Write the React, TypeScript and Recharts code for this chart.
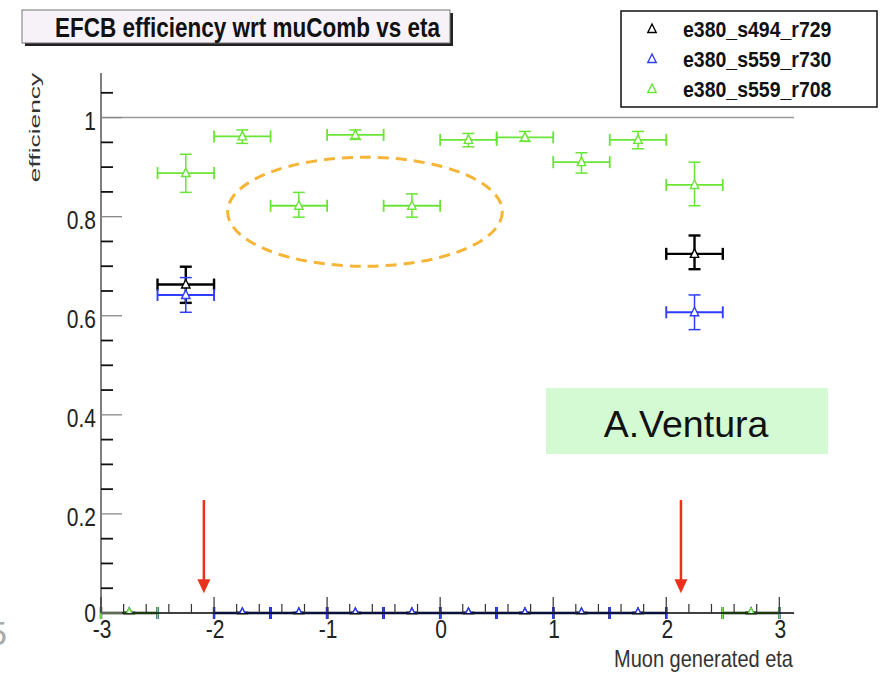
import React from 'react';
import { ComposedChart, Scatter, ErrorBar, XAxis, YAxis, ReferenceLine, ReferenceArea } from 'recharts';

// bin centres (eta), bins are 0.5 wide
const etaBins = [-2.75, -2.25, -1.75, -1.25, -0.75, -0.25, 0.25, 0.75, 1.25, 1.75, 2.25, 2.75];
const binHalfWidth = 0.25;

// e380_s494_r729 (black)
const effR729 = [0, 0.663, 0, 0, 0, 0, 0, 0, 0, 0, 0.725, 0];
const lowR729 = [0, 0.626, 0, 0, 0, 0, 0, 0, 0, 0, 0.694, 0];
const highR729 = [0, 0.699, 0, 0, 0, 0, 0, 0, 0, 0, 0.762, 0];

// e380_s559_r730 (blue)
const effR730 = [0, 0.642, 0, 0, 0, 0, 0, 0, 0, 0, 0.607, 0];
const lowR730 = [0, 0.607, 0, 0, 0, 0, 0, 0, 0, 0, 0.572, 0];
const highR730 = [0, 0.677, 0, 0, 0, 0, 0, 0, 0, 0, 0.642, 0];

// e380_s559_r708 (green)
const effR708 = [0, 0.888, 0.962, 0.822, 0.965, 0.822, 0.955, 0.96, 0.91, 0.955, 0.864, 0];
const lowR708 = [0, 0.849, 0.948, 0.799, 0.956, 0.799, 0.941, 0.952, 0.888, 0.937, 0.822, 0];
const highR708 = [0, 0.926, 0.975, 0.849, 0.975, 0.846, 0.968, 0.972, 0.929, 0.972, 0.91, 0];

const xTicks = [
  -3, -2.8, -2.6, -2.4, -2.2, -2, -1.8, -1.6, -1.4, -1.2, -1, -0.8, -0.6, -0.4, -0.2, 0,
  0.2, 0.4, 0.6, 0.8, 1, 1.2, 1.4, 1.6, 1.8, 2, 2.2, 2.4, 2.6, 2.8, 3,
];
const xMajor = [-3, -2, -1, 0, 1, 2, 3];
const yTicks = [
  0, 0.05, 0.1, 0.15, 0.2, 0.25, 0.3, 0.35, 0.4, 0.45, 0.5, 0.55, 0.6, 0.65, 0.7, 0.75,
  0.8, 0.85, 0.9, 0.95, 1, 1.05,
];
const yMajor = [0, 0.2, 0.4, 0.6, 0.8, 1];

// annotations (data coordinates)
const ellipseBox = { x1: -1.88, x2: 0.55, y1: 0.7, y2: 0.92 };
const arrowsEta = [-2.09, 2.13];
const arrowTop = 0.228;
const arrowTip = 0.04;

const BLACK = '#000000';
const BLUE = '#2f3dff';
const GREEN = '#6ae536';
const SY = 1.2; // the original picture is a bit stretched vertically

const toPoints = (eff: number[], lo: number[], hi: number[]) =>
  etaBins.map((eta, i) => ({
    eta,
    eff: eff[i],
    ex: binHalfWidth,
    ey: [eff[i] - lo[i], hi[i] - eff[i]],
  }));

const blackPts = toPoints(effR729, lowR729, highR729);
const bluePts = toPoints(effR730, lowR730, highR730);
const greenPts = toPoints(effR708, lowR708, highR708);

const triPath = (cx: number, cy: number) =>
  `M${cx},${cy - 5} L${cx + 4.2},${cy + 3.5} L${cx - 4.2},${cy + 3.5} Z`;

const triangle = (color: string) => (props: any) => {
  const { cx, cy } = props;
  if (cx == null || cy == null) return <g />;
  return <path d={triPath(cx, cy)} fill="#fff" stroke={color} strokeWidth={1.4} />;
};

const BottomTick = (p: any) => {
  const { x, y, payload } = p;
  const major = xMajor.includes(payload.value);
  return (
    <g>
      <line x1={x} x2={x} y1={y} y2={y - (major ? 16 : 9)} stroke="#333" strokeWidth={1.2} />
      {major && (
        <text transform={`translate(${x + 1},${y + 24.5}) scale(1,${SY})`} textAnchor="middle" fontSize={21} fill="#222">
          {String(payload.value)}
        </text>
      )}
    </g>
  );
};

const TopTick = (p: any) => {
  const { x, y, payload } = p;
  const major = xMajor.includes(payload.value);
  return <line x1={x} x2={x} y1={y} y2={y + (major ? 17 : 9)} stroke="#333" strokeWidth={1.2} />;
};

const LeftTick = (p: any) => {
  const { x, y, payload } = p;
  const major = yMajor.includes(payload.value);
  // the zero label sits a little higher so it clears the "-3" below it
  const dy = payload.value === 0 ? 9 : 12;
  return (
    <g>
      <line x1={x} x2={x + (major ? 21 : 12)} y1={y} y2={y} stroke={major ? '#888' : '#111'} strokeWidth={major ? 1.3 : 1.8} />
      {major && (
        <text transform={`translate(${x - 5},${y + dy}) scale(1,${SY})`} textAnchor="end" fontSize={21} fill="#222">
          {String(payload.value)}
        </text>
      )}
    </g>
  );
};

const RightTick = (p: any) => {
  const { x, y, payload } = p;
  const major = yMajor.includes(payload.value);
  return <line x1={x} x2={x - (major ? 22 : 12)} y1={y} y2={y} stroke={major ? '#888' : '#111'} strokeWidth={major ? 1.3 : 1.8} />;
};

const EllipseShape = (p: any) => (
  <ellipse
    cx={p.x + p.width / 2}
    cy={p.y + p.height / 2}
    rx={p.width / 2}
    ry={p.height / 2}
    fill="none"
    stroke="#f6b536"
    strokeWidth={3}
    strokeDasharray="11 7"
  />
);

const ArrowShape = (p: any) => {
  const cx = p.x + p.width / 2;
  const tip = p.y + p.height;
  return (
    <g>
      <line x1={cx} x2={cx} y1={p.y} y2={tip - 12} stroke="#e8321e" strokeWidth={2.5} />
      <path d={`M${cx - 6.5},${tip - 14} L${cx + 6.5},${tip - 14} L${cx},${tip} Z`} fill="#e8321e" />
    </g>
  );
};

const legendRows = [
  { name: 'e380_s494_r729', color: BLACK },
  { name: 'e380_s559_r730', color: BLUE },
  { name: 'e380_s559_r708', color: GREEN },
];

export default function App() {
  return (
    <div
      style={{
        position: 'absolute',
        left: 0,
        top: 0,
        width: 881,
        height: 673,
        background: '#fff',
        overflow: 'hidden',
        fontFamily: '"Liberation Sans", Arial, sans-serif',
      }}
    >
      <ComposedChart width={881} height={673} margin={{ top: 73, right: 87, bottom: 0, left: 0 }}>
        <XAxis
          xAxisId="b"
          dataKey="eta"
          type="number"
          domain={[-3, 3.13]}
          allowDataOverflow
          ticks={xTicks}
          interval={0}
          height={60}
          tickLine={false}
          tickSize={0}
          tickMargin={0}
          tick={BottomTick}
          axisLine={{ stroke: '#000', strokeWidth: 1.5 }}
        />
        <XAxis
          xAxisId="t"
          orientation="top"
          type="number"
          domain={[-3, 3.13]}
          allowDataOverflow
          ticks={xTicks}
          interval={0}
          height={0}
          tickLine={false}
          tickSize={0}
          tickMargin={0}
          tick={TopTick}
          axisLine={{ stroke: '#888', strokeWidth: 1.5 }}
        />
        <YAxis
          yAxisId="l"
          dataKey="eff"
          type="number"
          domain={[0, 1.09]}
          allowDataOverflow
          ticks={yTicks}
          interval={0}
          width={101}
          tickLine={false}
          tickSize={0}
          tickMargin={0}
          tick={LeftTick}
          axisLine={{ stroke: '#555', strokeWidth: 1.5 }}
        />
        <YAxis
          yAxisId="r"
          orientation="right"
          type="number"
          domain={[0, 1.09]}
          allowDataOverflow
          ticks={yTicks}
          interval={0}
          width={0}
          tickLine={false}
          tickSize={0}
          tickMargin={0}
          tick={RightTick}
          axisLine={{ stroke: '#888', strokeWidth: 2 }}
        />
        <ReferenceLine xAxisId="b" yAxisId="l" y={1} stroke="#999" strokeWidth={1.5} />

        <Scatter xAxisId="b" yAxisId="l" data={blackPts} dataKey="eff" shape={triangle(BLACK)} isAnimationActive={false}>
          <ErrorBar dataKey="ex" direction="x" width={6} stroke={BLACK} strokeWidth={2.4} />
          <ErrorBar dataKey="ey" direction="y" width={6} stroke={BLACK} strokeWidth={2.4} />
        </Scatter>
        <Scatter xAxisId="b" yAxisId="l" data={bluePts} dataKey="eff" shape={triangle(BLUE)} isAnimationActive={false}>
          <ErrorBar dataKey="ex" direction="x" width={6} stroke={BLUE} strokeWidth={1.9} />
          <ErrorBar dataKey="ey" direction="y" width={6} stroke={BLUE} strokeWidth={1.5} />
        </Scatter>
        <Scatter xAxisId="b" yAxisId="l" data={greenPts} dataKey="eff" shape={triangle(GREEN)} isAnimationActive={false}>
          <ErrorBar dataKey="ex" direction="x" width={6} stroke={GREEN} strokeWidth={1.8} />
          <ErrorBar dataKey="ey" direction="y" width={6} stroke={GREEN} strokeWidth={1.5} />
        </Scatter>

        <ReferenceArea
          xAxisId="b"
          yAxisId="l"
          x1={ellipseBox.x1}
          x2={ellipseBox.x2}
          y1={ellipseBox.y1}
          y2={ellipseBox.y2}
          shape={EllipseShape}
        />
        {arrowsEta.map((eta) => (
          <ReferenceArea
            key={eta}
            xAxisId="b"
            yAxisId="l"
            x1={eta - 0.05}
            x2={eta + 0.05}
            y1={arrowTip}
            y2={arrowTop}
            shape={ArrowShape}
          />
        ))}
      </ComposedChart>

      <svg width={881} height={673} style={{ position: 'absolute', left: 0, top: 0, pointerEvents: 'none' }}>
        {/* title box with shadow */}
        <rect x={25} y={13} width={428} height={33} fill="#222" />
        <rect x={22} y={10} width={428} height={33} fill="#f7f2f7" stroke="#777" strokeWidth={1} />
        <text transform={`translate(440,36.5) scale(1,${SY})`} textAnchor="end" fontSize={22.5} fontWeight="bold" fill="#111">
          EFCB efficiency wrt muComb vs eta
        </text>

        {/* legend */}
        <rect x={621} y={11} width={256} height={96} fill="#fff" stroke="#111" strokeWidth={1.5} />
        {legendRows.map((r, i) => (
          <g key={r.name}>
            <path d={triPath(652, 29 + i * 30)} fill="#fff" stroke={r.color} strokeWidth={1.4} />
            <text transform={`translate(683,${36.7 + i * 30}) scale(1,1.12)`} fontSize={19.5} fontWeight="bold" fill="#111">
              {r.name}
            </text>
          </g>
        ))}

        {/* axis titles */}
        <text transform="translate(39.5,127.5) rotate(-90) scale(1.7,1)" textAnchor="middle" fontSize={15.5} fill="#333">
          efficiency
        </text>
        <text transform={`translate(793,667) scale(1,${SY})`} textAnchor="end" fontSize={20} fill="#333">
          Muon generated eta
        </text>

        {/* author tag */}
        <rect x={546} y={388} width={282} height={66} fill="#d4fad4" />
        <text x={686} y={436.5} textAnchor="middle" fontSize={37.5} fill="#111">
          A.Ventura
        </text>

        {/* slide page number, cut by the left edge as in the slide */}
        <text x={-12} y={645} fontSize={34} fill="#aaa">
          5
        </text>
      </svg>
    </div>
  );
}
